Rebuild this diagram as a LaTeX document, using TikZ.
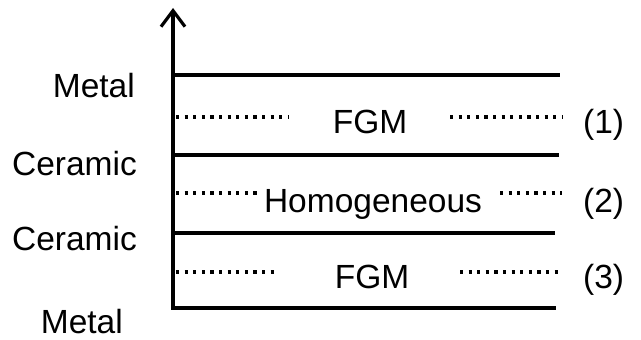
\documentclass[tikz,border=0pt]{standalone}
\usepackage{fontspec}
\setmainfont{Liberation Sans}
\usetikzlibrary{positioning, arrows.meta}

\begin{document}
\begin{tikzpicture}[x=1pt, y=-1pt,
    layer/.style={line width=3.2pt},
    dots/.style={line width=3.2pt, dash pattern=on 3.2pt off 5.4pt},
    lbl/.style={font=\fontsize{33.5}{38}\selectfont, inner sep=0pt}]
    \useasboundingbox (0,0) rectangle (641,340);

    % Draw thickness axis
    \coordinate (origin) at (173,309.5);
    \coordinate (top) at (173,8);
    \draw[layer, -{Straight Barb[length=16pt, width=24pt]}] (origin) -- (top);

    % Interfaces between the layers
    \foreach \y/\xe in {75/560, 155/559, 233/555, 308/556} {
      \draw[layer] (173,\y) -- (\xe,\y);
    }

    % Layers: mid-plane dots, name and number
    \foreach \i/\y/\yb/\xl/\xr/\xm/\name in {1/117/133/288/450/370/FGM, 2/193/212/258/500/373/Homogeneous, 3/272/288/278/460/372/FGM} {
      \draw[dots] (176,\y) -- (\xl,\y);
      \draw[dots] (\xr,\y) -- (562,\y);
      \node[lbl, anchor=base] (layer\i) at (\xm,\yb) {\name};
      \node[lbl, anchor=base west] (num\i) at (583,\yb) {(\i)};
    }

    % Materials at the faces
    \node[lbl, anchor=base east] (topface) at (135,97) {Metal};
    \node[lbl, anchor=base east] (face1) at (137,175) {Ceramic};
    \node[lbl, anchor=base east] (face2) at (137,250) {Ceramic};
    \node[lbl, anchor=base east] (botface) at (123,333) {Metal};

\end{tikzpicture}
\end{document}
